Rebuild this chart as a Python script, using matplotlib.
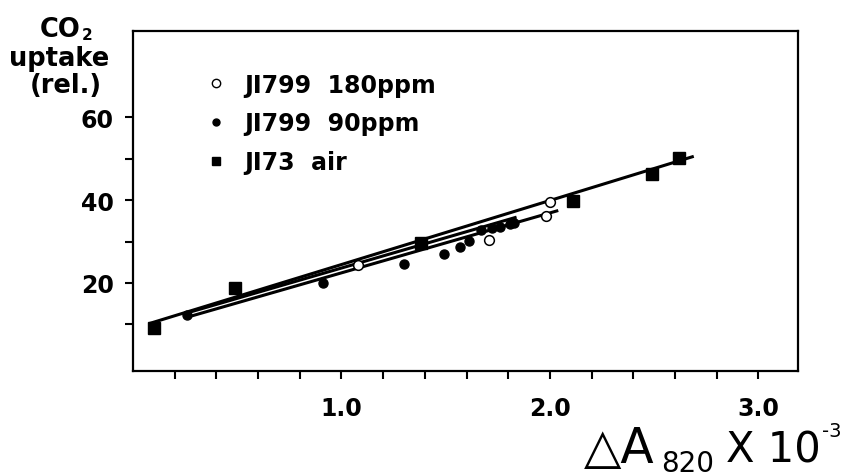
import matplotlib
matplotlib.use("Agg")
import matplotlib.pyplot as plt
from matplotlib.lines import Line2D
from matplotlib.ticker import FixedLocator, FixedFormatter

plt.rcParams["font.family"] = ["DejaVu Sans"]

# ---------------------------------------------------------------------------
# Data
# ---------------------------------------------------------------------------

# JI799 at 180 ppm (open circles)
ppm180_x = [1.08, 1.71, 1.98, 2.00]
ppm180_y = [24.4, 30.4, 36.2, 39.6]

# JI799 at 90 ppm (filled dots)
ppm90_x = [0.26, 0.91, 1.30, 1.49, 1.57, 1.61, 1.67, 1.72, 1.76, 1.81, 1.83]
ppm90_y = [12.2, 20.0, 24.6, 27.0, 28.7, 30.2, 32.8, 33.3, 33.5, 34.2, 34.4]

# JI73 in air (filled squares)
air_x = [0.10, 0.49, 1.38, 2.11, 2.49, 2.62]
air_y = [9.1, 18.8, 29.7, 39.9, 46.4, 50.3]

# fitted lines, end points (x0, x1), (y0, y1)
fit_air_x = [0.08, 2.69]
fit_air_y = [10.2, 50.6]
fit_90_x = [0.25, 1.84]
fit_90_y = [12.6, 35.9]
fit_180_x = [0.26, 2.04]
fit_180_y = [11.7, 37.5]

x_ticks = [0.2 * i for i in range(1, 16)]
x_labels = ["1.0" if abs(t - 1.0) < 1e-6 else "2.0" if abs(t - 2.0) < 1e-6
            else "3.0" if abs(t - 3.0) < 1e-6 else "" for t in x_ticks]
y_ticks = [10, 20, 30, 40, 50, 60]
y_labels = ["", "20", "", "40", "", "60"]

legend_labels = ["JI799  180ppm", "JI799  90ppm", "JI73  air"]

W, H = 842, 477


def fx(px):
    return px / W


def fy(py):
    return 1 - py / H


fig = plt.figure(figsize=(W / 100, H / 100), dpi=100)
ax = fig.add_axes([fx(133), fy(372), fx(798) - fx(133), fy(32) - fy(372)])

# regression lines
for lx, ly in [(fit_air_x, fit_air_y), (fit_90_x, fit_90_y), (fit_180_x, fit_180_y)]:
    ax.plot(lx, ly, color="black", linewidth=2.2, solid_capstyle="butt")

ax.plot(air_x, air_y, linestyle="none", marker="s", markersize=8,
        color="black", zorder=3)
ax.plot(ppm90_x, ppm90_y, linestyle="none", marker="o", markersize=6.5,
        color="black", zorder=3)
ax.plot(ppm180_x, ppm180_y, linestyle="none", marker="o", markersize=7,
        markerfacecolor="white", markeredgecolor="black", markeredgewidth=1.1,
        zorder=4)

ax.set_xlim(0, 3.19)
ax.set_ylim(-1.3, 80.9)

ax.xaxis.set_major_locator(FixedLocator(x_ticks))
ax.xaxis.set_major_formatter(FixedFormatter(x_labels))
ax.yaxis.set_major_locator(FixedLocator(y_ticks))
ax.yaxis.set_major_formatter(FixedFormatter(y_labels))
ax.tick_params(axis="both", direction="out", length=6, width=1.5,
               labelsize=17)
ax.tick_params(axis="x", pad=12)
ax.tick_params(axis="y", pad=8)
for lab in ax.get_xticklabels() + ax.get_yticklabels():
    lab.set_fontweight("bold")
for sp in ax.spines.values():
    sp.set_linewidth(1.6)

# legend with proxy markers
handles = [
    Line2D([], [], linestyle="none", marker="o", markersize=6,
           markerfacecolor="white", markeredgecolor="black", markeredgewidth=1),
    Line2D([], [], linestyle="none", marker="o", markersize=5, color="black"),
    Line2D([], [], linestyle="none", marker="s", markersize=5.5, color="black"),
]
ax.legend(handles, legend_labels, loc="upper left", frameon=False,
          bbox_to_anchor=(0.097, 0.905), prop={"size": 17, "weight": "bold"},
          handlelength=0.8, handletextpad=0.8, labelspacing=0.62,
          borderaxespad=0)

# y axis label, stacked
fig.text(fx(60), fy(30), "CO", fontsize=18.5, fontweight="bold",
         ha="center", va="center")
fig.text(fx(82), fy(36), "2", fontsize=11, fontweight="bold",
         ha="left", va="center")
fig.text(fx(59), fy(59), "uptake", fontsize=18.5, fontweight="bold",
         ha="center", va="center")
fig.text(fx(66), fy(86), "(rel.)", fontsize=18.5, fontweight="bold",
         ha="center", va="center")

# x axis label: delta A820 x 10^-3
fig.text(fx(584), fy(463), "\u25b3A", fontsize=35, ha="left", va="baseline")
fig.text(fx(661), fy(472), "820", fontsize=20, ha="left", va="baseline")
fig.text(fx(726), fy(463), "X 10", fontsize=30, ha="left", va="baseline")
fig.text(fx(822), fy(437), "-3", fontsize=14, ha="left", va="baseline")

fig.savefig("out.png", dpi=100)
